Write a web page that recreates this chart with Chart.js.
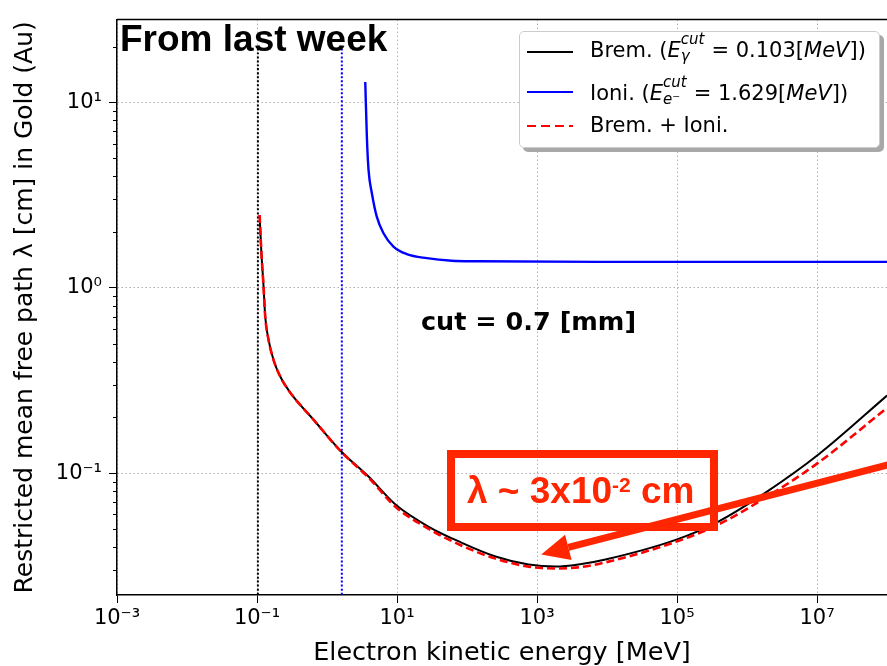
<!DOCTYPE html>
<html>
<head>
<meta charset="utf-8">
<script src="https://cdn.jsdelivr.net/npm/chart.js@4/dist/chart.umd.min.js"></script>
<style>
  body { margin: 0; overflow: hidden; background: #fff; font-family: 'DejaVu Sans', sans-serif; }
  #wrap { position: relative; width: 887px; height: 666px; }
  canvas { position: absolute; left: 0; top: 0; }
  .abs { position: absolute; white-space: nowrap; }
  #legend { position: absolute; left: 519px; top: 31px; width: 359px; height: 115px; background: #fff;
            border: 1px solid #cccccc; border-radius: 5px; box-shadow: 4px 4px 0 #a8a8a8; }
  .sample { position: absolute; left: 527px; width: 46px; height: 2px; }
  .row { position: absolute; left: 590px; font-size: 21px; line-height: 24px; white-space: nowrap; color: #000; }
  .ss { display: inline-block; position: relative; height: 0; }
  .ss i { position: absolute; left: 0; font-size: 15px; line-height: 15px; }
  .ss .up { top: -25px; }
  .ss .dn { top: -8px; }
  #note1 { left: 120px; top: 20px; font: bold 37px 'Liberation Sans', Arial, sans-serif; line-height: 37px; }
  #note2 { left: 421px; top: 309px; font: bold 25.5px 'DejaVu Sans', sans-serif; line-height: 25px; }
  #box { position: absolute; left: 447px; top: 450px; width: 255px; height: 65px; border: 8px solid #ff2600; }
  #boxtext { left: 467px; top: 472px; font: bold 37px 'Liberation Sans', Arial, sans-serif; line-height: 37px; color: #ff2600; }
  #boxtext sup { font-size: 21px; vertical-align: 11px; line-height: 0; }
</style>
</head>
<body>
<div id="wrap">
  <canvas id="chart" width="887" height="666"></canvas>
  <div class="abs" id="note1">From last week</div>
  <div class="abs" id="note2">cut = 0.7 [mm]</div>
  <div id="box"></div>
  <div class="abs" id="boxtext">λ ~ 3x10<sup>-2</sup> cm</div>
  <div id="legend"></div>
  <div class="sample" style="top:51px;background:#000"></div>
  <div class="row" style="top:38px">Brem. (<i>E</i><span class="ss" style="width:24px"><i class="up">cut</i><i class="dn">γ</i></span> = 0.103[<i>MeV</i>])</div>
  <div class="sample" style="top:91px;background:#0000ff"></div>
  <div class="row" style="top:81px">Ioni. (<i>E</i><span class="ss" style="width:24px"><i class="up">cut</i><i class="dn">e⁻</i></span> = 1.629[<i>MeV</i>])</div>
  <div class="sample" style="top:125px;background:repeating-linear-gradient(90deg,#ff0000 0 9px,transparent 9px 14px)"></div>
  <div class="row" style="top:113px">Brem. + Ioni.</div>
</div>
<script>
// electron kinetic energy [MeV] and mean free path [cm]
const energyBrem = [0.109, 0.115, 0.124, 0.131, 0.146, 0.172, 0.214, 0.314, 0.607, 1.61, 3.92, 9.5, 28, 83, 255, 760, 1840, 3900, 9500, 98000, 390000, 1.84e6, 1.05e7, 1e8];
const lambdaBrem = [2.47, 1.60, 1.016, 0.70, 0.525, 0.409, 0.333, 0.265, 0.199, 0.1305, 0.0958, 0.0677, 0.0515, 0.0422, 0.0355, 0.0321, 0.0313, 0.0321, 0.0342, 0.0438, 0.0548, 0.0785, 0.126, 0.262];
const lambdaSum  = [2.47, 1.60, 1.016, 0.70, 0.525, 0.409, 0.333, 0.265, 0.199, 0.1300, 0.0946, 0.0659, 0.0502, 0.0407, 0.0346, 0.0313, 0.0306, 0.0310, 0.0330, 0.0427, 0.0528, 0.0738, 0.114, 0.225];

const energyIoni = [3.52, 3.71, 3.92, 4.37, 5.14, 6.41, 8.9, 13.8, 26.7, 60.6, 146, 7600, 1e8];
const lambdaIoni = [12.9, 6.54, 4.33, 3.25, 2.42, 1.97, 1.67, 1.52, 1.445, 1.40, 1.39, 1.38, 1.38];

// production cuts (vertical dotted lines)
const cutGamma = 0.103;
const cutElectron = 1.629;
const cutLineTop = 19.5;

const xTickValues = [1e-3, 1e-1, 1e1, 1e3, 1e5, 1e7];
const xTickLabels = ['10⁻³', '10⁻¹', '10¹', '10³', '10⁵', '10⁷'];
const yTickValues = [0.1, 1, 10];
const yTickLabels = ['10⁻¹', '10⁰', '10¹'];

// annotation arrow (data coords)
const arrowFrom = [1e8, 0.111];
const arrowTo = [1150, 0.0364];

const pts = (xs, ys) => xs.map((x, i) => ({x: x, y: ys[i]}));

function yMinorTicks() {
  const out = [];
  [0.01, 0.1, 1, 10].forEach(d => {
    for (let k = 2; k <= 9; k++) out.push(d * k);
  });
  return out.filter(v => v > 0.022 && v < 28);
}

const frame = {
  id: 'frame',
  afterDraw(chart) {
    const {ctx, chartArea: a, scales: {x, y}} = chart;
    ctx.save();
    // top spine
    ctx.strokeStyle = '#000';
    ctx.lineWidth = 1.5;
    ctx.beginPath();
    ctx.moveTo(a.left, a.top);
    ctx.lineTo(a.right + 2, a.top);
    ctx.stroke();
    // minor ticks on the y axis
    ctx.lineWidth = 1;
    yMinorTicks().forEach(v => {
      const py = Math.round(y.getPixelForValue(v)) + 0.5;
      ctx.beginPath();
      ctx.moveTo(a.left - 4, py);
      ctx.lineTo(a.left, py);
      ctx.stroke();
    });
    // arrow
    const x0 = x.getPixelForValue(arrowFrom[0]), y0 = y.getPixelForValue(arrowFrom[1]);
    const x1 = x.getPixelForValue(arrowTo[0]), y1 = y.getPixelForValue(arrowTo[1]);
    const ang = Math.atan2(y1 - y0, x1 - x0);
    const hl = 28, hw = 13;
    const bx = x1 - hl * Math.cos(ang), by = y1 - hl * Math.sin(ang);
    ctx.strokeStyle = '#ff2600';
    ctx.fillStyle = '#ff2600';
    ctx.lineWidth = 7;
    ctx.beginPath();
    ctx.moveTo(x0 + 5, y0 - 1);
    ctx.lineTo(bx, by);
    ctx.stroke();
    ctx.beginPath();
    ctx.moveTo(x1, y1);
    ctx.lineTo(bx + hw * Math.sin(ang), by - hw * Math.cos(ang));
    ctx.lineTo(bx - hw * Math.sin(ang), by + hw * Math.cos(ang));
    ctx.closePath();
    ctx.fill();
    ctx.restore();
  }
};

const gridDash = [1.5, 2.5];
const tickFont = {family: 'DejaVu Sans', size: 21};

new Chart(document.getElementById('chart').getContext('2d'), {
  type: 'line',
  data: {
    datasets: [
      {label: 'Brem. + Ioni.', data: pts(energyBrem, lambdaSum), borderColor: '#ff0000', borderWidth: 2.6, borderDash: [8, 4], order: 0},
      {label: 'Ioni.', data: pts(energyIoni, lambdaIoni), borderColor: '#0000ff', borderWidth: 2.4, order: 1},
      {label: 'Brem.', data: pts(energyBrem, lambdaBrem), borderColor: '#000000', borderWidth: 2, order: 2},
      {label: 'gamma cut', data: pts([cutGamma, cutGamma], [0.01, cutLineTop]), borderColor: '#000000', borderWidth: 2, borderDash: [2, 2], order: 3},
      {label: 'electron cut', data: pts([cutElectron, cutElectron], [0.01, cutLineTop]), borderColor: '#0000ff', borderWidth: 2, borderDash: [2, 2], order: 3}
    ]
  },
  options: {
    responsive: false,
    animation: false,
    layout: {padding: {top: 19, right: 0, bottom: 0, left: 0}},
    elements: {point: {radius: 0}, line: {cubicInterpolationMode: 'monotone', fill: false}},
    plugins: {legend: {display: false}, tooltip: {enabled: false}},
    scales: {
      x: {
        type: 'logarithmic',
        min: 1e-3,
        max: 1e8,
        afterBuildTicks: s => { s.ticks = xTickValues.map(v => ({value: v})); },
        afterFit: s => { s.height = 71; },
        ticks: {
          autoSkip: false, maxRotation: 0, padding: 3, color: '#000', font: tickFont,
          callback: (v, i) => xTickLabels[i]
        },
        grid: {color: '#b0b0b0', lineWidth: 1, tickColor: '#000', tickLength: 8, tickWidth: 1},
        border: {color: '#000', width: 1.5, dash: gridDash},
        title: {display: true, text: 'Electron kinetic energy [MeV]', color: '#000',
                font: {family: 'DejaVu Sans', size: 25.5}, padding: {top: 0, bottom: -3}}
      },
      y: {
        type: 'logarithmic',
        min: 0.022,
        max: 28,
        afterBuildTicks: s => { s.ticks = yTickValues.map(v => ({value: v})); },
        afterFit: s => { s.width = 117; },
        ticks: {
          autoSkip: false, padding: 7, color: '#000', font: tickFont,
          callback: (v, i) => yTickLabels[i]
        },
        grid: {color: '#b0b0b0', lineWidth: 1, tickColor: '#000', tickLength: 8, tickWidth: 1},
        border: {color: '#000', width: 1.5, dash: gridDash},
        title: {display: true, text: 'Restricted mean free path λ [cm] in Gold (Au)', color: '#000',
                font: {family: 'DejaVu Sans', size: 25}, padding: {top: 10, bottom: 0}}
      }
    }
  },
  plugins: [frame]
});
</script>
</body>
</html>
